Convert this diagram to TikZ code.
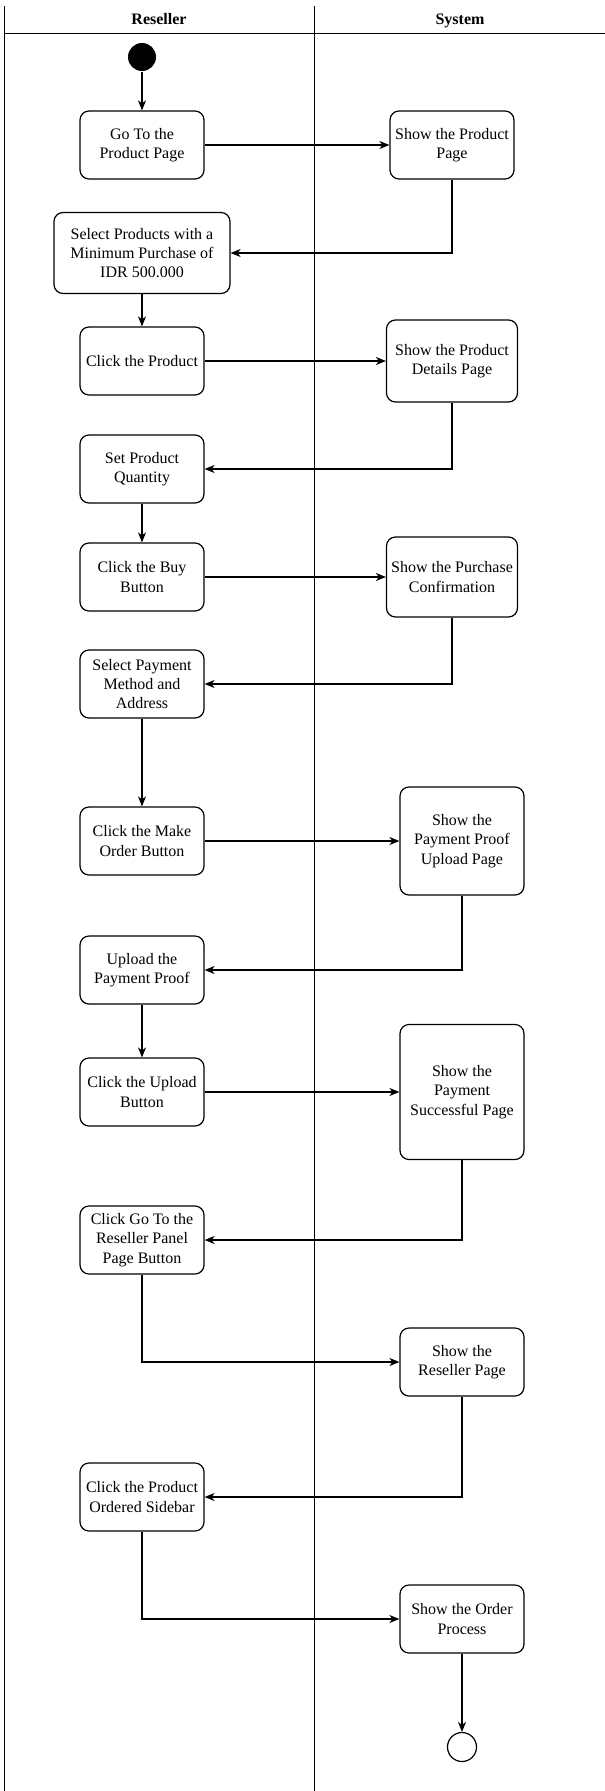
\documentclass[tikz,border=0pt]{standalone}
\usepackage{fontspec}
\setmainfont{Liberation Serif}
\usetikzlibrary{arrows.meta}

\begin{document}
\begin{tikzpicture}[x=1pt,y=-1pt,line width=1.2pt]

      \useasboundingbox (0,0) rectangle (605,1791);

      % lanes
      \draw[line width=1pt] (4,6) -- (4,1791);
      \draw[line width=1pt] (314,6) -- (314,1791);
      \draw[line width=1pt] (4,33) -- (605,33);
      \node[anchor=base,font=\bfseries\fontsize{16}{19}\selectfont] (reseller) at (159,24) {Reseller};
      \node[anchor=base,font=\bfseries\fontsize{16}{19}\selectfont] (system) at (460,24) {System};

      \node[circle,fill=black,minimum size=28pt,inner sep=0pt] (0) at (142,57) {};
      \node[circle,draw,minimum size=29pt,inner sep=0pt] (19) at (462,1747) {};

      \begin{scope}[every node/.style={draw,rounded corners=9pt,align=center,inner sep=2pt,
          minimum width=124pt,minimum height=68pt,font=\fontsize{16}{19.3}\selectfont}]
        \node (1) at (142,145) {Go To the\\Product Page};
        \node (2) at (452,145) {Show the Product\\Page};
        \node[minimum width=176pt,minimum height=81pt] (3) at (142,253) {Select Products with a\\Minimum Purchase of\\IDR 500.000};
        \node (4) at (142,361) {Click the Product};
        \node[minimum width=131pt,minimum height=82pt] (5) at (452,361) {Show the Product\\Details Page};
        \node (6) at (142,469) {Set Product\\Quantity};
        \node (7) at (142,577) {Click the Buy\\Button};
        \node[minimum width=131pt,minimum height=80pt] (8) at (452,577) {Show the Purchase\\Confirmation};
        \node (9) at (142,684) {Select Payment\\Method and\\Address};
        \node (10) at (142,841) {Click the Make\\Order Button};
        \node[minimum height=108pt] (11) at (462,841) {Show the\\Payment Proof\\Upload Page};
        \node (12) at (142,970) {Upload the\\Payment Proof};
        \node (13) at (142,1092) {Click the Upload\\Button};
        \node[minimum height=135pt] (14) at (462,1092) {Show the\\Payment\\Successful Page};
        \node (15) at (142,1240) {Click Go To the\\Reseller Panel\\Page Button};
        \node (16) at (462,1362) {Show the\\Reseller Page};
        \node (17) at (142,1497) {Click the Product\\Ordered Sidebar};
        \node (18) at (462,1619) {Show the Order\\Process};
      \end{scope}

      \begin{scope}[every edge/.style={draw,-{Stealth[length=10pt,width=8pt,inset=3pt]}}]
        \path (0) edge (1);
        \path (1) edge (2);
        \path (3) edge (4);
        \path (4) edge (5);
        \path (6) edge (7);
        \path (7) edge (8);
        \path (9) edge (10);
        \path (10) edge (11);
        \path (12) edge (13);
        \path (13) edge (14);
        \path (18) edge (19);
      \end{scope}

      \begin{scope}[every edge/.style={draw,-{Stealth[length=10pt,width=8pt,inset=3pt]},
          to path={|- (\tikztotarget)}}]
        \path (2) edge (3);
        \path (5) edge (6);
        \path (8) edge (9);
        \path (11) edge (12);
        \path (14) edge (15);
        \path (15) edge (16);
        \path (16) edge (17);
        \path (17) edge (18);
      \end{scope}

    \end{tikzpicture}
\end{document}
